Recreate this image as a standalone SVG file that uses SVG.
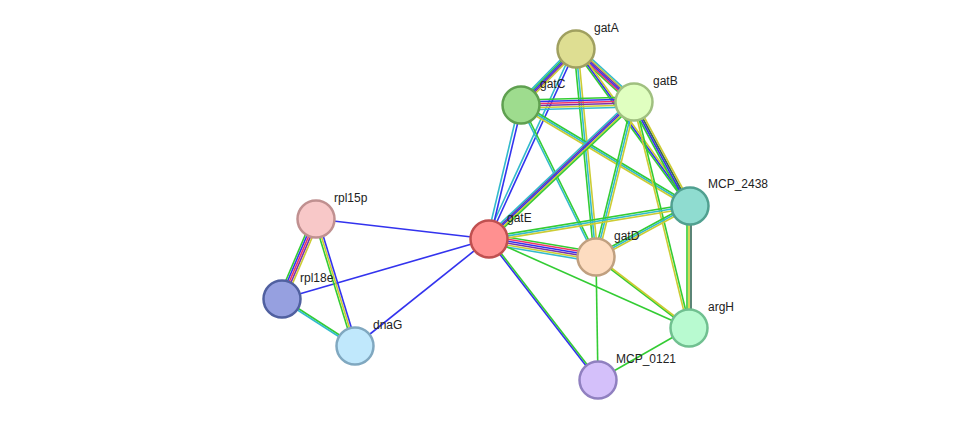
<svg xmlns="http://www.w3.org/2000/svg" width="976" height="426" viewBox="0 0 976 426">
<style>
line{stroke-width:1.6;fill:none}
.g{stroke:#33cc33}.b{stroke:#3333ee}.y{stroke:#cccc33}.c{stroke:#33bbcc}.r{stroke:#ee3366}.p{stroke:#7733aa}.k{stroke:#336655}
circle{stroke-width:2.5}
text{font-family:"Liberation Sans",Arial,sans-serif;font-size:12px;fill:#222}
</style>
<rect width="976" height="426" fill="#fff"/>
<g id="connectors">
<!-- gatA-gatC -->
<g><line class="g" x1="573" y1="49" x2="518" y2="105"/><line class="b" x1="575" y1="49" x2="520" y2="105"/><line class="p" x1="577" y1="49" x2="522" y2="105"/><line class="y" x1="579" y1="49" x2="524" y2="105"/><line class="c" x1="571" y1="49" x2="516" y2="105"/></g>
<!-- gatA-gatB -->
<g><line class="g" x1="571" y1="49" x2="629" y2="102"/><line class="r" x1="573" y1="49" x2="631" y2="102"/><line class="b" x1="575" y1="49" x2="633" y2="102"/><line class="p" x1="577" y1="49" x2="635" y2="102"/><line class="y" x1="579" y1="49" x2="637" y2="102"/><line class="c" x1="581" y1="49" x2="639" y2="102"/></g>
<g><line class="g" x1="574" y1="49" x2="688" y2="206"/><line class="b" x1="576" y1="49" x2="690" y2="206"/><line class="y" x1="578" y1="49" x2="692" y2="206"/></g>
<g><line class="c" x1="573" y1="49" x2="486" y2="239"/><line class="b" x1="576" y1="49" x2="489" y2="239"/></g>
<g><line class="g" x1="574" y1="49" x2="594" y2="257"/><line class="c" x1="576" y1="49" x2="596" y2="257"/><line class="y" x1="578" y1="49" x2="598" y2="257"/></g>
<!-- gatC-gatB -->
<g><line class="g" x1="521" y1="100" x2="634" y2="97"/><line class="b" x1="521" y1="102" x2="634" y2="99"/><line class="r" x1="521" y1="104" x2="634" y2="101"/><line class="p" x1="521" y1="106" x2="634" y2="103"/><line class="y" x1="521" y1="108" x2="634" y2="105"/><line class="c" x1="521" y1="110" x2="634" y2="107"/></g>
<g><line class="c" x1="519" y1="105" x2="487" y2="239"/><line class="b" x1="522" y1="105" x2="490" y2="239"/></g>
<g><line class="c" x1="520" y1="105" x2="595" y2="257"/><line class="g" x1="522" y1="105" x2="597" y2="257"/></g>
<g><line class="g" x1="521" y1="103" x2="690" y2="204"/><line class="c" x1="521" y1="105" x2="690" y2="206"/><line class="y" x1="521" y1="107" x2="690" y2="208"/></g>
<!-- gatB-gatE -->
<g><line class="p" x1="631" y1="102" x2="486" y2="239"/><line class="b" x1="633" y1="102" x2="488" y2="239"/><line class="y" x1="635" y1="102" x2="490" y2="239"/><line class="g" x1="637" y1="102" x2="492" y2="239"/><line class="c" x1="629" y1="102" x2="484" y2="239"/></g>
<g><line class="g" x1="632" y1="102" x2="594" y2="257"/><line class="c" x1="634" y1="102" x2="596" y2="257"/><line class="y" x1="636" y1="102" x2="598" y2="257"/></g>
<g><line class="g" x1="630" y1="102" x2="686" y2="206"/><line class="b" x1="632" y1="102" x2="688" y2="206"/><line class="k" x1="634" y1="102" x2="690" y2="206"/><line class="y" x1="636" y1="102" x2="692" y2="206"/></g>
<g><line class="y" x1="633" y1="102" x2="688" y2="328"/><line class="g" x1="635" y1="102" x2="690" y2="328"/></g>
<!-- gatE-gatD -->
<g><line class="g" x1="489" y1="234" x2="596" y2="252"/><line class="r" x1="489" y1="236" x2="596" y2="254"/><line class="b" x1="489" y1="238" x2="596" y2="256"/><line class="p" x1="489" y1="240" x2="596" y2="258"/><line class="y" x1="489" y1="242" x2="596" y2="260"/><line class="c" x1="489" y1="244" x2="596" y2="262"/></g>
<g><line class="g" x1="489" y1="237" x2="690" y2="204"/><line class="c" x1="489" y1="239" x2="690" y2="206"/><line class="y" x1="489" y1="241" x2="690" y2="208"/></g>
<line class="g" x1="489" y1="239" x2="689" y2="328"/>
<g><line class="b" x1="488" y1="239" x2="597" y2="380"/><line class="g" x1="490" y1="239" x2="599" y2="380"/></g>
<line class="b" x1="489" y1="239" x2="316" y2="219"/>
<line class="b" x1="489" y1="239" x2="282" y2="299"/>
<line class="b" x1="489" y1="239" x2="355" y2="346"/>
<g><line class="g" x1="596" y1="255" x2="690" y2="204"/><line class="c" x1="596" y1="257" x2="690" y2="206"/><line class="y" x1="596" y1="259" x2="690" y2="208"/></g>
<g><line class="g" x1="595" y1="257" x2="688" y2="328"/><line class="y" x1="597" y1="257" x2="690" y2="328"/></g>
<line class="g" x1="596" y1="257" x2="598" y2="380"/>
<g><line class="g" x1="687" y1="206" x2="687" y2="328"/><line class="y" x1="689" y1="206" x2="689" y2="328"/><line class="k" x1="691" y1="206" x2="691" y2="328"/></g>
<line class="g" x1="689" y1="328" x2="598" y2="380"/>
<!-- rpl -->
<g><line class="g" x1="312" y1="219" x2="278" y2="299"/><line class="b" x1="314" y1="219" x2="280" y2="299"/><line class="r" x1="316" y1="219" x2="282" y2="299"/><line class="p" x1="318" y1="219" x2="284" y2="299"/><line class="y" x1="320" y1="219" x2="286" y2="299"/></g>
<g><line class="g" x1="314" y1="219" x2="353" y2="346"/><line class="y" x1="316" y1="219" x2="355" y2="346"/><line class="b" x1="318" y1="219" x2="357" y2="346"/></g>
<g><line class="g" x1="282" y1="298" x2="355" y2="345"/><line class="c" x1="282" y1="300" x2="355" y2="347"/></g>
</g>
<g id="gatA"><circle cx="576" cy="49" r="18.5" fill="#dede92" stroke="#a0a060"/><text x="594" y="32">gatA</text></g>
<g id="gatC"><circle cx="521" cy="105" r="18.5" fill="#9edc8e" stroke="#5fa050"/><text x="540" y="88">gatC</text></g>
<g id="gatB"><circle cx="634" cy="102" r="18.5" fill="#e0ffc0" stroke="#a0c080"/><text x="653" y="85">gatB</text></g>
<g id="MCP_2438"><circle cx="690" cy="206" r="18.5" fill="#8fdcd0" stroke="#50a090"/><text x="708" y="188">MCP_2438</text></g>
<g id="gatE"><circle cx="489" cy="239" r="18.5" fill="#ff9090" stroke="#c05050"/><text x="507" y="222">gatE</text></g>
<g id="gatD"><circle cx="596" cy="257" r="18.5" fill="#fddcc0" stroke="#c0a080"/><text x="614" y="240">gatD</text></g>
<g id="argH"><circle cx="689" cy="328" r="18.5" fill="#b8fad0" stroke="#70c090"/><text x="708" y="311">argH</text></g>
<g id="MCP_0121"><circle cx="598" cy="380" r="18.5" fill="#d4c0fa" stroke="#9080c0"/><text x="616" y="363">MCP_0121</text></g>
<g id="rpl15p"><circle cx="316" cy="219" r="18.5" fill="#f8c8c8" stroke="#c09090"/><text x="334" y="202">rpl15p</text></g>
<g id="rpl18e"><circle cx="282" cy="299" r="18.5" fill="#96a0e0" stroke="#5060a0"/><text x="300" y="282">rpl18e</text></g>
<g id="dnaG"><circle cx="355" cy="346" r="18.5" fill="#c0e8fc" stroke="#80a8c0"/><text x="373" y="329">dnaG</text></g>
</svg>
